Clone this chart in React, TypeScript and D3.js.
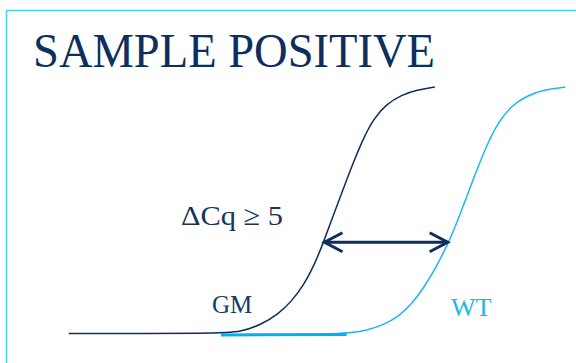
import React from "react";
import * as d3 from "d3";

// Amplification curves: PCR cycle vs normalised fluorescence
const gmCycles = [14.6, 20.5, 21.3, 22.1, 22.8, 23.3, 23.8, 24.2, 24.55, 24.9, 25.3, 25.7, 26.1, 26.5, 27.0, 27.6, 28.2, 28.9];
const gmFluor = [0, 0, 0.006, 0.035, 0.08, 0.13, 0.2, 0.28, 0.37, 0.47, 0.58, 0.69, 0.79, 0.87, 0.93, 0.968, 0.988, 1.0];

const wtCycles = [20.55, 25.45, 26.2, 26.9, 27.5, 28.0, 28.5, 28.95, 29.4, 29.8, 30.2, 30.6, 31.0, 31.4, 31.9, 32.5, 33.2, 34.0];
const wtFluor = [-0.006, -0.004, 0.012, 0.035, 0.07, 0.12, 0.19, 0.27, 0.36, 0.46, 0.57, 0.68, 0.78, 0.86, 0.925, 0.965, 0.99, 1.0];

const seriesNames = ["GM", "WT"];
const threshold = 0.37;
const title = "SAMPLE POSITIVE";
const deltaLabel = "ΔCq ≥ 5";

const W = 576;
const H = 363;
const NAVY = "#0f2d5c";
const CYAN = "#1cb8ed";

type Pt = [number, number];

function zip(xs: number[], ys: number[]): Pt[] {
  return xs.map((x, i) => [x, ys[i]] as Pt);
}

// cycle at which a curve first reaches the threshold (linear interpolation)
function crossing(pts: Pt[], t: number): number {
  for (let i = 1; i < pts.length; i++) {
    const [x0, y0] = pts[i - 1];
    const [x1, y1] = pts[i];
    if (y0 < t && y1 >= t) return x0 + ((t - y0) / (y1 - y0)) * (x1 - x0);
  }
  return pts[pts.length - 1][0];
}

export default function App() {
  const x = d3.scaleLinear().domain([15, 35]).range([79, 591]);
  const y = d3.scaleLinear().domain([0, 1]).range([333.5, 87]);

  const line = d3
    .line<Pt>()
    .x((d) => x(d[0]))
    .y((d) => y(d[1]))
    .curve(d3.curveBasis);

  const gm = zip(gmCycles, gmFluor);
  const wt = zip(wtCycles, wtFluor);

  const ax0 = x(crossing(gm, threshold));
  const ax1 = x(crossing(wt, threshold));
  const ay = y(threshold);
  const hx = 19;
  const hy = 9.5;

  return (
    <svg
      width={W}
      height={H}
      viewBox={`0 0 ${W} ${H}`}
      style={{ position: "absolute", left: 0, top: 0, display: "block", background: "#fff" }}
    >
      {/* frame */}
      <line x1={6.5} y1={10.5} x2={W} y2={10.5} stroke="#4ccff3" strokeWidth={1.5} />
      <line x1={6.5} y1={10.5} x2={6.5} y2={H} stroke="#4ccff3" strokeWidth={1.5} />

      <text
        x={33}
        y={67}
        fontFamily="'Liberation Serif', 'Times New Roman', serif"
        fontSize={48}
        textLength={402}
        lengthAdjust="spacingAndGlyphs"
        fill="#0d2f5f"
      >
        {title}
      </text>

      {/* WT curve with its thicker baseline */}
      <path d={line(wt) || ""} fill="none" stroke={CYAN} strokeWidth={1.5} />
      <path
        d={d3.line<Pt>().x((d) => x(d[0])).y((d) => y(d[1]))(wt.slice(0, 2)) || ""}
        fill="none"
        stroke="#00b0f0"
        strokeWidth={3}
      />

      {/* GM curve */}
      <path d={line(gm) || ""} fill="none" stroke={NAVY} strokeWidth={1.5} />

      {/* ΔCq double arrow at the threshold */}
      <g stroke={NAVY} strokeWidth={3} fill="none" strokeLinecap="butt" strokeLinejoin="miter">
        <line x1={ax0 + 1} y1={ay} x2={ax1 - 1} y2={ay} />
        <polyline points={`${ax0 + hx},${ay - hy} ${ax0 + 1},${ay} ${ax0 + hx},${ay + hy}`} />
        <polyline points={`${ax1 - hx},${ay - hy} ${ax1 - 1},${ay} ${ax1 - hx},${ay + hy}`} />
      </g>

      <text
        x={181}
        y={225}
        fontFamily="'Liberation Serif', 'Times New Roman', serif"
        fontSize={28}
        textLength={102}
        lengthAdjust="spacingAndGlyphs"
        fill="#16345e"
      >
        {deltaLabel}
      </text>

      <text
        x={212}
        y={313}
        fontFamily="'Liberation Serif', 'Times New Roman', serif"
        fontSize={25}
        fill="#163a66"
      >
        {seriesNames[0]}
      </text>
      <text
        x={451}
        y={316}
        fontFamily="'Liberation Serif', 'Times New Roman', serif"
        fontSize={26}
        fill="#1ab7ec"
      >
        {seriesNames[1]}
      </text>
    </svg>
  );
}
